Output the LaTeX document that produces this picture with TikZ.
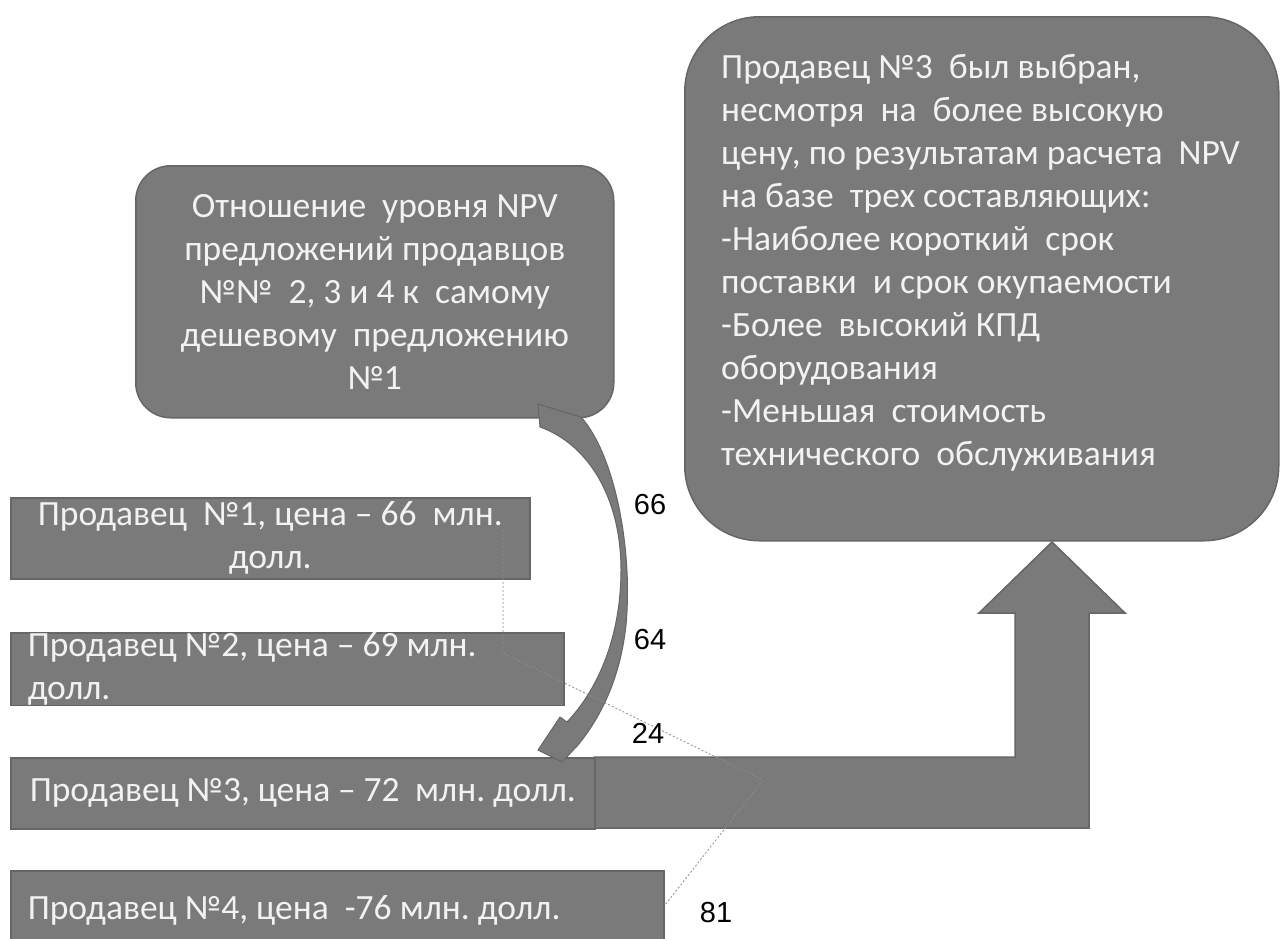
\documentclass[tikz,border=0pt]{standalone}
\usepackage{fontspec}
\setmainfont{Carlito}
\newfontfamily\lblfont{Liberation Sans}
\definecolor{boxfill}{HTML}{7A7A7A}
\definecolor{boxedge}{HTML}{666666}
\definecolor{boxtext}{HTML}{F2F2F2}
\definecolor{leader}{HTML}{8C8C8C}
\newcommand{\dsp}{\ \ }
\frenchspacing
\begin{document}
\begin{tikzpicture}[x=1pt,y=-1pt,
  shapebox/.style={fill=boxfill, draw=boxedge, line width=1.5pt},
  txt/.style={text=boxtext, font=\fontsize{35.5}{43}\selectfont},
  seller/.style={shapebox, txt, anchor=north west, inner ysep=0pt},
  numlbl/.style={font=\lblfont\fontsize{29}{29}\selectfont, text=black, inner sep=0pt},
  leaderline/.style={draw=leader, line width=0.8pt, dash pattern=on 2pt off 2pt}]
\useasboundingbox (0,0) rectangle (1281,938);

% bent arrow from seller 3 to the decision box
\draw[shapebox] (594,757) -- (1015,757) -- (1015,613) -- (979,613) -- (1052,542)
  -- (1125,613) -- (1089,613) -- (1089,828) -- (594,828) -- cycle;

% seller boxes
\node[seller, minimum width=519, minimum height=81, text width=511, align=flush center, inner xsep=4pt] (s1) at (10,497)
  {Продавец\dsp№1, цена – 66\dsp млн.\\долл.};
\node[seller, minimum width=553, minimum height=70, text width=519, align=flush left, inner xsep=17pt] (s2) at (10,632)
  {Продавец №2, цена – 69 млн.\\долл.};
\node[seller, minimum width=584, minimum height=71, text width=546, align=flush left, inner xsep=19pt] (s3) at (10,757)
  {Продавец №3, цена – 72\dsp млн. долл.};
\node[seller, minimum width=653, minimum height=80, text width=619, align=flush left, inner xsep=17pt] (s4) at (10,870)
  {Продавец №4, цена\dsp -76 млн. долл.};

% NPV ratio box
\node[shapebox, txt, rounded corners=35pt, anchor=north west, minimum width=478, minimum height=252,
  text width=470, align=flush center] (ratio) at (135,165)
  {Отношение\dsp уровня NPV\\предложений продавцов\\№№\dsp 2, 3 и 4 к\dsp самому\\дешевому\dsp предложению\\№1};

% decision box
\node[shapebox, rounded corners=75pt, anchor=north west, minimum width=594, minimum height=524] (decision) at (684,16) {};
\node[txt, anchor=north west, align=flush left, inner sep=0pt] (decisiontext) at (721,54)
  {Продавец №3\dsp был выбран,\\несмотря\dsp на\dsp более высокую\\цену, по результатам расчета\dsp NPV\\на базе\dsp трех составляющих:\\-Наиболее короткий\dsp срок\\поставки\dsp и срок окупаемости\\-Более\dsp высокий КПД\\оборудования\\-Меньшая\dsp стоимость\\технического\dsp обслуживания};

% curved arrow from ratio box to seller 3
\fill[boxfill, draw=boxedge, line width=1pt]
  (538,404) -- (581,417)
  .. controls (615,455) and (633,550) .. (626,625)
  .. controls (620,680) and (600,718) .. (578,745)
  -- (562,762) -- (538,750) -- (560,717) -- (567,722)
  .. controls (602,685) and (621,630) .. (621,570)
  .. controls (621,500) and (590,445) .. (540,427) -- cycle;

% leader lines
\coordinate (la) at (503,530);
\coordinate (lb) at (503,653);
\coordinate (lc) at (763,780);
\coordinate (ld) at (665,905);
\draw[leaderline] (la) -- (lb) -- (lc) -- (ld);

% value labels
\node[numlbl] (v66) at (650,505) {66};
\node[numlbl] (v64) at (650,640) {64};
\node[numlbl] (v24) at (648,733) {24};
\node[numlbl] (v81) at (716,912) {81};
\end{tikzpicture}
\end{document}
